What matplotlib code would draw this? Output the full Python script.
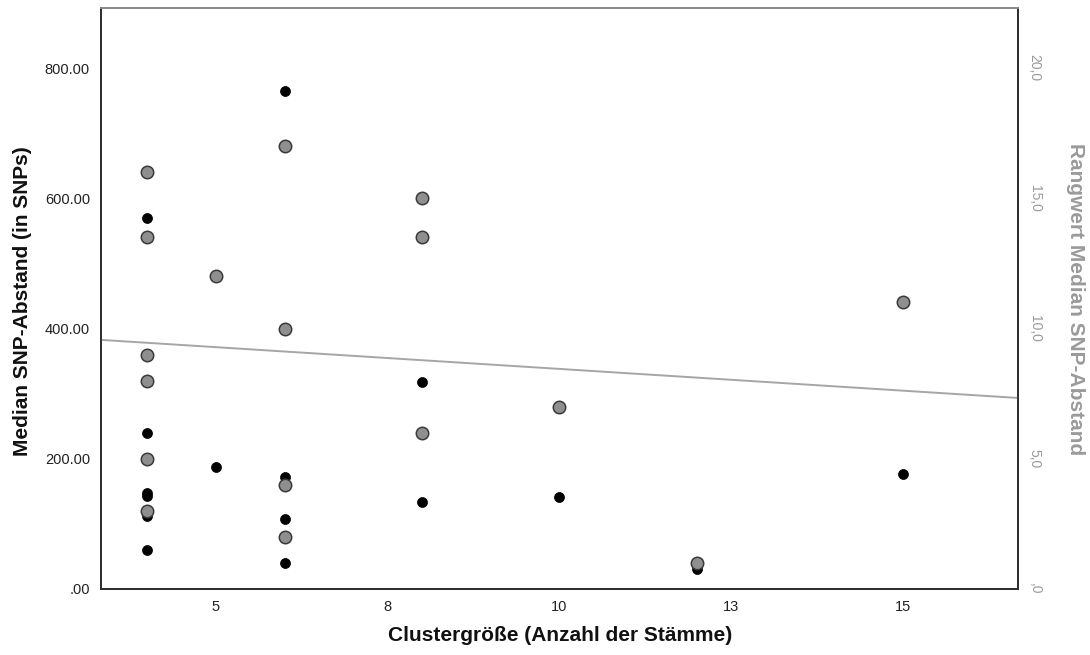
import numpy as np
import matplotlib
matplotlib.use("Agg")
import matplotlib.pyplot as plt

plt.rcParams['font.family'] = ['Liberation Sans', 'DejaVu Sans']

# Cluster size (number of strains) per cluster
cluster_size = [4, 4, 4, 4, 4, 4, 5, 6, 6, 6, 6, 8, 8, 8, 10, 12, 15]
# Median SNP distance per cluster (in SNPs)
median_snp = [570, 240, 148, 143, 112, 60, 188, 765, 172, 108, 40, 318, 240, 133, 141, 30, 177]
# Rank of the median SNP distance
rank_snp = [16, 13.5, 9, 8, 5, 3, 12, 17, 10, 4, 2, 15, 13.5, 6, 7, 1, 11]

x_ticks = [5, 7.5, 10, 12.5, 15]
x_ticklabels = ["5", "8", "10", "13", "15"]
y_ticks = [0, 200, 400, 600, 800]
y_ticklabels = [".00", "200.00", "400.00", "600.00", "800.00"]
r_ticks = [0, 5, 10, 15, 20]
r_ticklabels = [",0", "5,0", "10,0", "15,0", "20,0"]

W, H = 1090, 655
L, R, T, B = 101, 1018, 7.5, 589
fig = plt.figure(figsize=(W / 100, H / 100), dpi=100)
ax = fig.add_axes([L / W, 1 - B / H, (R - L) / W, (B - T) / H])
ax2 = ax.twinx()

xmin, xmax = 3.33, 16.67
ymax = 893
ax.set_xlim(xmin, xmax)
ax.set_ylim(0, ymax)
ax2.set_ylim(0, ymax / 40)

# Median SNP distance (black dots)
ax.scatter(cluster_size, median_snp, s=52, color='black', edgecolors='black',
           linewidths=0.5, zorder=3)

# Rank values (grey circles) and their linear fit
ax2.scatter(cluster_size, rank_snp, s=80, color='#8f8f8f', edgecolors='#3a3a3a',
            linewidths=1.1, zorder=4)
slope, intercept = np.polyfit(cluster_size, rank_snp, 1)
xs = np.array([xmin, xmax])
ax2.plot(xs, slope * xs + intercept, color='#a6a6a6', linewidth=1.4, zorder=2)

ax.set_xticks(x_ticks)
ax.set_xticklabels(x_ticklabels)
ax.set_yticks(y_ticks)
ax.set_yticklabels(y_ticklabels)
ax2.set_yticks(r_ticks)
ax2.set_yticklabels(r_ticklabels, rotation=270, va='center', color='#9a9a9a')

ax.tick_params(axis='both', length=0, labelsize=10.5, colors='#222222')
ax.tick_params(axis='x', pad=8)
ax.tick_params(axis='y', pad=8)
ax2.tick_params(axis='y', length=0, labelsize=10, pad=7, labelcolor='#9a9a9a')

for a in (ax, ax2):
    for side in ('left', 'bottom', 'right'):
        a.spines[side].set_color('#2e2e2e')
        a.spines[side].set_linewidth(1.3)
    a.spines['top'].set_color('#8a8a8a')
    a.spines['top'].set_linewidth(1.3)

pw, ph = R - L, B - T
ax.set_xlabel("Clustergröße (Anzahl der Stämme)", fontsize=15, fontweight='bold',
              color='#111111')
ax.xaxis.set_label_coords((560 - L) / pw, -(626 - B) / ph)
ax.set_ylabel("Median SNP-Abstand (in SNPs)", fontsize=15, fontweight='bold',
              color='#111111')
ax.yaxis.set_label_coords(-(L - 32) / pw, (B - 301) / ph)
ax2.set_ylabel("Rangwert Median SNP-Abstand", fontsize=15, fontweight='bold',
               color='#9a9a9a', rotation=270, va='center')
ax2.yaxis.set_label_coords(1 + (1075 - R) / pw, (B - 299) / ph)

fig.savefig("out.png", dpi=100)
